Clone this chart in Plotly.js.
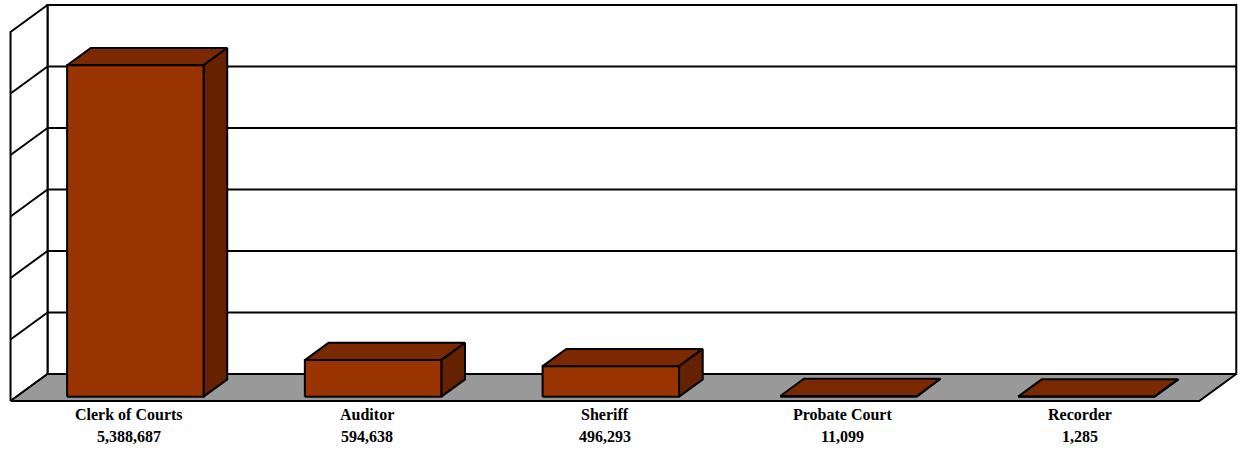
<!DOCTYPE html>
<html>
<head>
<meta charset="utf-8">
<script src="https://cdn.plot.ly/plotly-3.0.1.min.js"></script>
<style>
  html, body { margin: 0; padding: 0; background: #ffffff; }
  #chart { width: 1238px; height: 449px; }
</style>
</head>
<body>
<div id="chart"></div>
<script>
// Collections by office
const categories = ['Clerk of Courts', 'Auditor', 'Sheriff', 'Probate Court', 'Recorder'];
const amounts = [5388687, 594638, 496293, 11099, 1285];
const gridValues = [0, 1000000, 2000000, 3000000, 4000000, 5000000, 6000000];

// Oblique 3-D box, expressed in axis units
const DEPTH_X = 0.1556;    // sideways shift from floor front to back wall (category units)
const DEPTH_Y = 439000;    // upward shift for the same depth (value units)
const BAR_HALF = 0.287;    // half of a bar's width
const BAR_FRONT = 0.16;    // bar depth span: 0 = front edge, 1 = back wall
const BAR_BACK = 0.80;

const FRONT_COLOR = '#993300';
const TOP_COLOR = '#7a2900';
const SIDE_COLOR = '#662200';
const FLOOR_COLOR = '#999999';
const EDGE = '#000000';

const xMin = -0.5, xMax = categories.length - 0.5;
const vMax = gridValues[gridValues.length - 1];

// project (category position, value, depth) onto the plotting plane
function P(x, v, d) { return [x + d * DEPTH_X, v + d * DEPTH_Y]; }

function shape(points, fill, width) {
  const pts = points.concat([points[0]]);
  return {
    x: pts.map(p => p[0]), y: pts.map(p => p[1]),
    type: 'scatter', mode: 'lines',
    fill: fill ? 'toself' : 'none', fillcolor: fill || 'rgba(0,0,0,0)',
    line: { color: EDGE, width: width || 2 },
    hoverinfo: 'skip', showlegend: false, cliponaxis: false
  };
}
function segment(a, b, width) {
  return {
    x: [a[0], b[0]], y: [a[1], b[1]],
    type: 'scatter', mode: 'lines',
    line: { color: EDGE, width: width || 2 },
    hoverinfo: 'skip', showlegend: false, cliponaxis: false
  };
}

const traces = [];

// back wall
traces.push(shape([P(xMin, 0, 1), P(xMax, 0, 1), P(xMax, vMax, 1), P(xMin, vMax, 1)], '#ffffff'));
gridValues.slice(1, -1).forEach(g => traces.push(segment(P(xMin, g, 1), P(xMax, g, 1))));

// left side wall
traces.push(shape([P(xMin, 0, 0), P(xMin, 0, 1), P(xMin, vMax, 1), P(xMin, vMax, 0)], '#ffffff'));
gridValues.slice(1, -1).forEach(g => traces.push(segment(P(xMin, g, 1), P(xMin, g, 0))));

// floor
traces.push(shape([P(xMin, 0, 0), P(xMax, 0, 0), P(xMax, 0, 1), P(xMin, 0, 1)], FLOOR_COLOR));

// bars: top, right side, then front face
amounts.forEach((v, i) => {
  const l = i - BAR_HALF, r = i + BAR_HALF;
  traces.push(shape([P(l, v, BAR_FRONT), P(r, v, BAR_FRONT), P(r, v, BAR_BACK), P(l, v, BAR_BACK)], TOP_COLOR));
  traces.push(shape([P(r, 0, BAR_FRONT), P(r, 0, BAR_BACK), P(r, v, BAR_BACK), P(r, v, BAR_FRONT)], SIDE_COLOR));
  traces.push(shape([P(l, 0, BAR_FRONT), P(r, 0, BAR_FRONT), P(r, v, BAR_FRONT), P(l, v, BAR_FRONT)], FRONT_COLOR));
});

// category names and amounts under the floor
const labelFont = { family: 'Liberation Serif, Times New Roman, serif', size: 16, color: '#000000' };
const annotations = [];
categories.forEach((c, i) => {
  annotations.push({ x: i, y: 0.0775, xref: 'x', yref: 'paper', text: '<b>' + c + '</b>',
    showarrow: false, xanchor: 'center', yanchor: 'middle', font: labelFont });
  annotations.push({ x: i, y: 0.0285, xref: 'x', yref: 'paper', text: '<b>' + amounts[i].toLocaleString('en-US') + '</b>',
    showarrow: false, xanchor: 'center', yanchor: 'middle', font: labelFont });
});

const layout = {
  width: 1238, height: 449,
  margin: { l: 0, r: 0, t: 0, b: 0 },
  paper_bgcolor: '#ffffff', plot_bgcolor: '#ffffff',
  xaxis: { range: [-0.5443, 4.6629], visible: false, fixedrange: true },
  yaxis: { range: [-780500, 6520300], visible: false, fixedrange: true },
  showlegend: false,
  annotations: annotations
};

Plotly.newPlot('chart', traces, layout, { staticPlot: true, displayModeBar: false });
</script>
</body>
</html>
